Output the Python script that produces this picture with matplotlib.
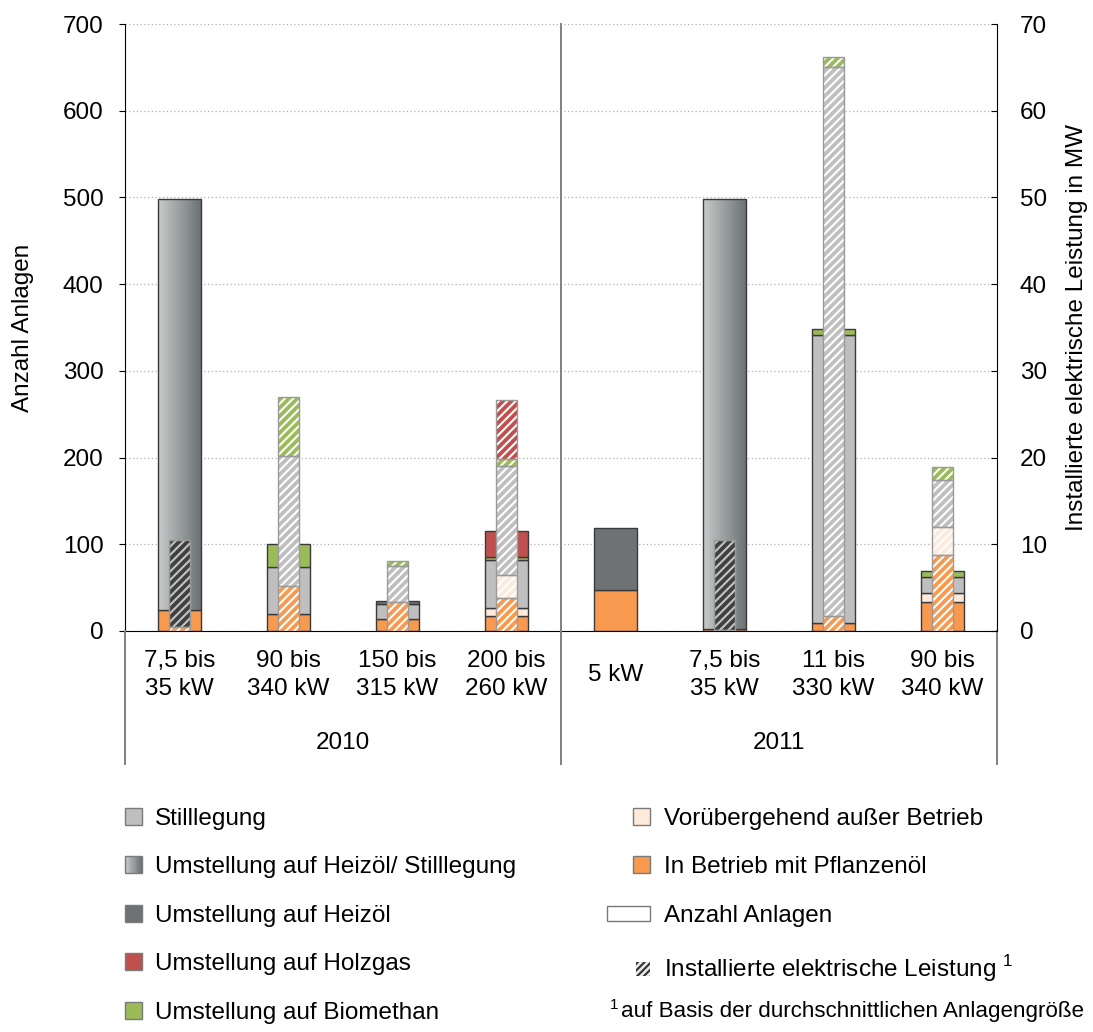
import numpy as np
import matplotlib
matplotlib.use("Agg")
import matplotlib.pyplot as plt
from matplotlib.patches import Patch, Rectangle
from matplotlib.legend_handler import HandlerBase
from matplotlib.colors import LinearSegmentedColormap

plt.rcParams["font.family"] = ["Liberation Sans", "DejaVu Sans"]
plt.rcParams["mathtext.fontset"] = "custom"
plt.rcParams["mathtext.rm"] = "Liberation Sans"
plt.rcParams["hatch.linewidth"] = 1.5

# categories (8 slots: 4 in 2010, 4 in 2011)
categories = ["7,5 bis\n35 kW", "90 bis\n340 kW", "150 bis\n315 kW", "200 bis\n260 kW",
              "5 kW", "7,5 bis\n35 kW", "11 bis\n330 kW", "90 bis\n340 kW"]
years = ["2010", "2011"]

# Anzahl Anlagen (left axis), stacked bottom -> top
n_betrieb = [24, 20, 14, 17, 47, 2, 9, 33]
n_voruebergehend = [0, 0, 0, 10, 0, 0, 0, 11]
n_stilllegung = [0, 54, 17, 55, 0, 0, 332, 18]
n_heizoel_still = [474, 0, 0, 0, 0, 496, 0, 0]
n_heizoel = [0, 0, 3, 0, 72, 0, 0, 0]
n_biomethan = [0, 26, 0, 3, 0, 0, 7, 7]
n_holzgas = [0, 0, 0, 30, 0, 0, 0, 0]

# Installierte elektrische Leistung in MW (right axis)
mw_betrieb = [0.4, 5.2, 3.3, 3.8, 0, 0.1, 1.7, 8.8]
mw_voruebergehend = [0, 0, 0, 2.7, 0, 0, 0, 3.2]
mw_stilllegung = [0, 15.0, 4.2, 12.5, 0, 0, 63.4, 5.4]
mw_heizoel_still = [10.1, 0, 0, 0, 0, 10.4, 0, 0]
mw_heizoel = [0, 0, 0, 0, 0, 0, 0, 0]
mw_biomethan = [0, 6.8, 0.6, 0.8, 0, 0, 1.1, 1.5]
mw_holzgas = [0, 0, 0, 6.8, 0, 0, 0, 0]

c_betrieb = "#F79A50"
c_vorueb = "#FDEADA"
c_still = "#BFBFBF"
c_heizoel = "#6E7274"
c_bio = "#9BBB59"
c_holz = "#C0504D"
grad_cmap = LinearSegmentedColormap.from_list("g", ["#C8CACA", "#6A7172"])

series = [
    ("In Betrieb mit Pflanzenöl", c_betrieb, n_betrieb, mw_betrieb),
    ("Vorübergehend außer Betrieb", c_vorueb, n_voruebergehend, mw_voruebergehend),
    ("Stilllegung", c_still, n_stilllegung, mw_stilllegung),
    ("Umstellung auf Heizöl/ Stilllegung", "gradient", n_heizoel_still, mw_heizoel_still),
    ("Umstellung auf Heizöl", c_heizoel, n_heizoel, mw_heizoel),
    ("Umstellung auf Biomethan", c_bio, n_biomethan, mw_biomethan),
    ("Umstellung auf Holzgas", c_holz, n_holzgas, mw_holzgas),
]

FS = 17.5
edge_dark = "#3A3A3A"
edge_narrow = "#9A9A9A"

fig = plt.figure(figsize=(10.93, 10.32), dpi=100)
ax = fig.add_axes([0.1144, 0.3886, 0.7978, 0.5881])
ax2 = ax.twinx()

x = np.arange(len(categories))
bot_n = np.zeros(len(x))
bot_mw = np.zeros(len(x))
gradient = np.linspace(0, 1, 64).reshape(1, -1)

for name, col, nv, mv in series:
    nv = np.array(nv, float)
    mv = np.array(mv, float)
    m = nv > 0
    if col == "gradient":
        bars = ax.bar(x[m], nv[m], 0.4, bottom=bot_n[m], facecolor="none",
                      edgecolor=edge_dark, lw=1, zorder=3)
        for b in bars:
            im = ax.imshow(gradient, cmap=grad_cmap, aspect="auto", zorder=2.5,
                           extent=[b.get_x(), b.get_x() + b.get_width(),
                                   b.get_y(), b.get_y() + b.get_height()])
            im.set_clip_path(b)
    else:
        ax.bar(x[m], nv[m], 0.4, bottom=bot_n[m], color=col,
               edgecolor=edge_dark, lw=1, zorder=2)
    bot_n += nv

    m2 = mv > 0
    if col == "gradient":
        face, hcol = "#404040", "#C4C4C4"
    else:
        face, hcol = col, "white"
    ax2.bar(x[m2], mv[m2], 0.2, bottom=bot_mw[m2], color=face, edgecolor=hcol,
            lw=0, hatch="////", zorder=2)
    ax2.bar(x[m2], mv[m2], 0.2, bottom=bot_mw[m2], facecolor="none",
            edgecolor=edge_narrow, lw=1, zorder=3)
    bot_mw += mv

ax.set_xlim(-0.5, 7.5)
ax.set_ylim(0, 700)
ax2.set_ylim(0, 70)
ax.set_yticks(range(0, 701, 100))
ax2.set_yticks(range(0, 71, 10))
ax.set_xticks([])
ax.tick_params(axis="y", direction="out", length=4, labelsize=FS, pad=11.5)
ax2.tick_params(axis="y", direction="in", length=4, labelsize=FS, pad=16.5)

ax.yaxis.grid(True, linestyle=(0, (1, 2)), color="#B0B0B0", lw=0.9)
ax.set_axisbelow(True)

for s in ["top", "right"]:
    ax.spines[s].set_visible(False)
for s in ["top", "left", "bottom"]:
    ax2.spines[s].set_visible(False)
ax.spines["left"].set_color("black")
ax.spines["bottom"].set_color("black")
ax2.spines["right"].set_color("black")

ax.set_ylabel("Anzahl Anlagen", fontsize=FS)
ax.yaxis.set_label_coords(-0.104, 0.5)
ax2.set_ylabel("Installierte elektrische Leistung in MW", fontsize=FS)
ax2.yaxis.set_label_coords(1.079, 0.5)

# frame lines below the axis for the category/year labels
tr = ax.get_xaxis_transform()
for xv, top in [(-0.5, 0), (3.5, 1), (7.5, 0)]:
    ax.plot([xv, xv], [top, -0.219], transform=tr, color="#808080", lw=1.4,
            clip_on=False, zorder=5)

for i, c in enumerate(categories):
    ax.text(i, -0.0725, c, transform=tr, ha="center", va="center",
            fontsize=FS, linespacing=1.35)
for j, yr in enumerate(years):
    ax.text(1.5 + 4 * j, -0.1845, yr, transform=tr, ha="center", va="center",
            fontsize=FS)


class BoxHandler(HandlerBase):
    def create_artists(self, legend, orig_handle, xdescent, ydescent,
                       width, height, fontsize, trans):
        kind = orig_handle.get_gid()
        if kind == "wide":
            w, h = width, height * 0.85
        elif kind == "small":
            w = h = height * 0.82
        else:
            w = h = height
        x0 = -xdescent + width - w
        y0 = -ydescent + (height - h) / 2
        arts = []
        if kind == "gradient":
            n = 24
            for k in range(n):
                arts.append(Rectangle((x0 + k * w / n, y0), w / n + 0.1, h,
                                      facecolor=grad_cmap(k / (n - 1)),
                                      edgecolor="none", transform=trans))
            arts.append(Rectangle((x0, y0), w, h, facecolor="none",
                                  edgecolor=orig_handle.get_edgecolor(),
                                  lw=orig_handle.get_linewidth(), transform=trans))
        else:
            arts.append(Rectangle((x0, y0), w, h,
                                  facecolor=orig_handle.get_facecolor(),
                                  edgecolor=orig_handle.get_edgecolor(),
                                  hatch=orig_handle.get_hatch(),
                                  lw=orig_handle.get_linewidth(), transform=trans))
        return arts


leg_edge = "#7A7A7A"
left_handles = [
    Patch(facecolor=c_still, edgecolor=leg_edge, lw=1),
    Patch(facecolor="none", edgecolor=leg_edge, lw=1, gid="gradient"),
    Patch(facecolor=c_heizoel, edgecolor=leg_edge, lw=1),
    Patch(facecolor=c_holz, edgecolor=leg_edge, lw=1),
    Patch(facecolor=c_bio, edgecolor=leg_edge, lw=1),
]
left_labels = ["Stilllegung", "Umstellung auf Heizöl/ Stilllegung",
               "Umstellung auf Heizöl", "Umstellung auf Holzgas",
               "Umstellung auf Biomethan"]
right_handles = [
    Patch(facecolor=c_vorueb, edgecolor=leg_edge, lw=1),
    Patch(facecolor=c_betrieb, edgecolor=leg_edge, lw=1),
    Patch(facecolor="white", edgecolor=leg_edge, lw=1, gid="wide"),
    Patch(facecolor="#E8E8E8", edgecolor="#303030", lw=0, hatch="/////", gid="small"),
]
right_labels = ["Vorübergehend außer Betrieb", "In Betrieb mit Pflanzenöl",
                "Anzahl Anlagen", r"Installierte elektrische Leistung $^{1}$"]

common = dict(loc="upper left", frameon=False, fontsize=FS, handleheight=0.7,
              labelspacing=1.09, borderpad=0, borderaxespad=0,
              handler_map={Patch: BoxHandler()})
fig.legend(left_handles, left_labels, bbox_to_anchor=(0.1144, 0.2172),
           handlelength=0.7, handletextpad=0.53, **common)
fig.legend(right_handles, right_labels, bbox_to_anchor=(0.5554, 0.2172),
           handlelength=1.77, handletextpad=0.58, **common)

# footnote
fig.text(0.5581, 0.0258, "1", fontsize=11, va="center", ha="left")
fig.text(0.5682, 0.0203, "auf Basis der durchschnittlichen Anlagengröße",
         fontsize=16.1, va="center", ha="left")

fig.savefig("out.png", dpi=100)
